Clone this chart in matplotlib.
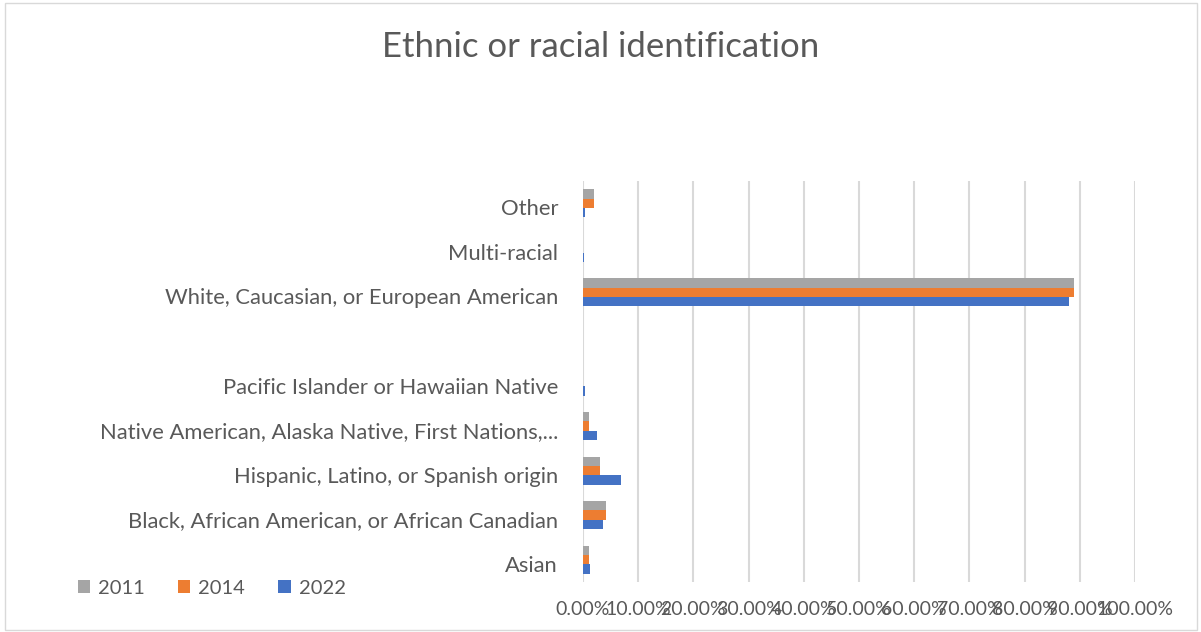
import matplotlib.pyplot as plt
import matplotlib.transforms as mtransforms
import numpy as np
from matplotlib.patches import Rectangle
from matplotlib.ticker import FuncFormatter

plt.rcParams['font.family'] = ['Lato', 'DejaVu Sans']

# Categories from bottom to top (blank row between Pacific Islander and White)
categories = [
    "Asian",
    "Black, African American, or African Canadian",
    "Hispanic, Latino, or Spanish origin",
    "Native American, Alaska Native, First Nations,...",
    "Pacific Islander or Hawaiian Native",
    "",
    "White, Caucasian, or European American",
    "Multi-racial",
    "Other",
]

# Shares in percent
vals_2011 = [1.0, 4.1, 3.0, 1.0, 0.0, 0.0, 88.9, 0.0, 2.0]
vals_2014 = [1.0, 4.1, 3.0, 1.0, 0.0, 0.0, 88.9, 0.0, 2.0]
vals_2022 = [1.2, 3.7, 6.9, 2.6, 0.4, 0.0, 88.0, 0.2, 0.4]

years = ["2011", "2014", "2022"]
colors = ["#A5A5A5", "#ED7D31", "#4472C4"]
text_color = "#595959"

fig = plt.figure(figsize=(12.01, 6.32), dpi=100)
ax = fig.add_axes([583 / 1201, 1 - 582 / 632, (1135 - 583) / 1201, (582 - 181) / 632])

y = np.arange(len(categories))
h = 0.21
series = [vals_2011, vals_2014, vals_2022]
offsets = [h, 0, -h]
handles = []
for vals, off, c, lab in zip(series, offsets, colors, years):
    b = ax.barh(y + off, vals, height=h, color=c, label=lab, zorder=3)
    handles.append(b)

ax.set_xlim(0, 100)
ax.set_ylim(-0.5, len(categories) - 0.5)
ax.set_xticks(np.arange(0, 101, 10))
ax.xaxis.set_major_formatter(FuncFormatter(lambda v, p: f"{v:.2f}%"))
ax.set_yticks(y)
ax.set_yticklabels(categories)

ax.grid(axis='x', color='#D9D9D9', linewidth=1.5, zorder=0)
ax.set_axisbelow(True)
for s in ax.spines.values():
    s.set_visible(False)

ax.tick_params(axis='y', length=0, pad=18, labelsize=15.8, labelcolor=text_color)
ax.tick_params(axis='x', length=0, pad=14, labelsize=14, labelcolor=text_color)

# category labels sit a little below the bar group centre
shift = mtransforms.ScaledTranslation(0, -4 / 100, fig.dpi_scale_trans)
for lbl in ax.get_yticklabels():
    lbl.set_transform(lbl.get_transform() + shift)

fig.suptitle("Ethnic or racial identification", x=0.5, y=1 - 47 / 632,
             va='center', fontsize=25, color=text_color)

fig.legend(handles=handles, labels=years, loc='center left',
           bbox_to_anchor=(60 / 1201, 1 - 588 / 632), ncol=3, frameon=False,
           fontsize=14.5, labelcolor=text_color, handlelength=0.6,
           handleheight=0.6, handletextpad=0.4, columnspacing=1.65)

# chart border
fig.patches.append(Rectangle((5 / 1201, 2 / 632), 1192 / 1201, 627 / 632,
                             transform=fig.transFigure, fill=False,
                             edgecolor='#D9D9D9', linewidth=1))

fig.savefig("out.png", dpi=100)
